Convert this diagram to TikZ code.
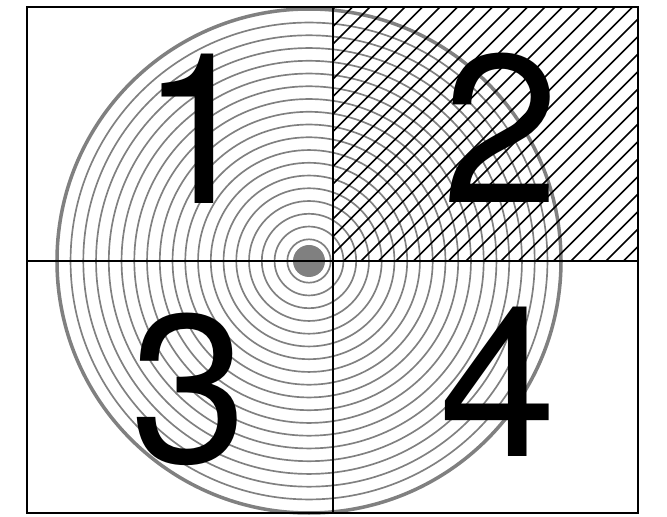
\documentclass[tikz,border=0pt]{standalone}
\usepackage{fontspec}
\setmainfont{TeX Gyre Heros}
\usetikzlibrary{calc}
\definecolor{ringgray}{RGB}{128,128,128}

\begin{document}
\begin{tikzpicture}[
  x=0.02cm, y=0.02cm,
  frame/.style={draw=black, line width=0.6pt},
  axis/.style={draw=black, line width=1.3pt},
  ring/.style={draw=ringgray, line width=0.95pt},
  rim/.style={draw=ringgray, line width=2pt},
  hatch/.style={draw=black, line width=1pt},
  digit/.style={font=\fontsize{120}{120}\selectfont, inner sep=0pt, anchor=base}
]
  \useasboundingbox (0,0) rectangle (667,517);
  \coordinate (SW) at (27,4);
  \coordinate (NE) at (638,510);
  \coordinate (O) at (333,256);
  \coordinate (C) at (309,256);
  % Rings
  \foreach \k in {0,...,17}
    \draw[ring] (C) circle[radius=21.7+12.75*\k];
  \draw[rim] (C) circle[radius=252];
  \fill[ringgray] (C) circle[radius=16];
  % Hatched quadrant
  \begin{scope}
    \clip (O) rectangle (NE);
    \foreach \k in {-12,...,20}
      \draw[hatch] (291+17.5*\k,256) -- ++(260,260);
  \end{scope}
  \draw[axis] (O) rectangle (NE);
  % Frame and cross
  \draw[frame] (SW) rectangle (NE);
  \draw[axis] (SW |- O) -- (NE |- O);
  \draw[axis] (SW -| O) -- (NE -| O);
  % Quadrant numbers
  \node[digit] (q1) at (199,313) {1};
  \node[digit] (q2) at (501,314) {2};
  \node[digit] (q3) at (189,54) {3};
  \node[digit] (q4) at (498,60) {4};
\end{tikzpicture}
\end{document}
